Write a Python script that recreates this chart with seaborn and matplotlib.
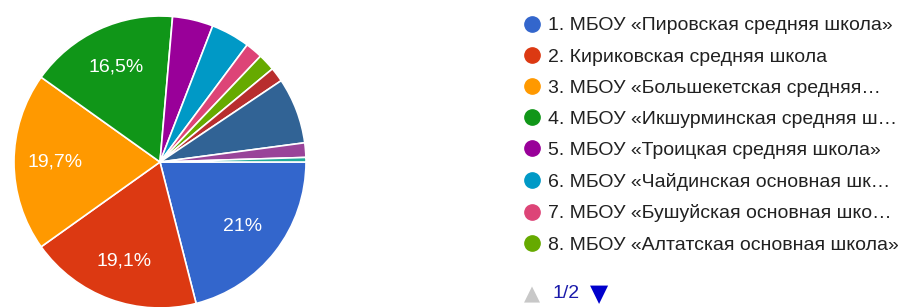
import seaborn as sns
import matplotlib.pyplot as plt
from matplotlib.lines import Line2D

# share of answers per school, % (clockwise from 3 o'clock)
shares = [21.0, 19.1, 19.7, 16.5, 4.5, 4.3, 1.9, 1.9, 1.6, 7.3, 1.6, 0.5]

# legend page 1 of 2 (names as shown, truncated)
legend_labels = [
    "1. МБОУ «Пировская средняя школа»",
    "2. Кириковская средняя школа",
    "3. МБОУ «Большекетская средняя…",
    "4. МБОУ «Икшурминская средняя ш…",
    "5. МБОУ «Троицкая средняя школа»",
    "6. МБОУ «Чайдинская основная шк…",
    "7. МБОУ «Бушуйская основная шко…",
    "8. МБОУ «Алтатская основная школа»",
]
page_text = "1/2"

# google charts palette
colors = sns.color_palette(["#3366cc", "#dc3912", "#ff9900", "#109618", "#990099", "#0099c6",
                            "#dd4477", "#66aa00", "#b82e2e", "#316395", "#994499", "#22aa99"])

sns.set_theme(style="white")
plt.rcParams['font.family'] = ['Arial', 'Liberation Sans', 'DejaVu Sans']

W, H = 907, 307
fig = plt.figure(figsize=(W / 100, H / 100), dpi=100)

# pie centre at (160, 162) px, radius 146 px
r, cx, cy = 146, 160, 162
pad = 1.03
ax = fig.add_axes([(cx - r * pad) / W, (H - cy - r * pad) / H, 2 * r * pad / W, 2 * r * pad / H])


def pct_label(p):
    if p < 10:
        return ""
    s = f"{p:.1f}"
    if s.endswith(".0"):
        s = s[:-2]
    return s.replace(".", ",") + "%"


wedges, texts, autotexts = ax.pie(shares, colors=colors, startangle=0, counterclock=False,
                                  autopct=pct_label, pctdistance=0.72,
                                  wedgeprops=dict(edgecolor="white", linewidth=1.2),
                                  textprops=dict(color="white", fontsize=14))
ax.set_xlim(-pad, pad)
ax.set_ylim(-pad, pad)
ax.set_aspect("equal")
ax.axis("off")

handles = [Line2D([], [], marker="o", linestyle="", markersize=11,
                  markerfacecolor=colors[i], markeredgecolor=colors[i])
           for i in range(len(legend_labels))]
leg = fig.legend(handles, legend_labels, loc="upper left", bbox_to_anchor=(513 / W, 1 - 7 / H),
                 frameon=False, fontsize=14, labelspacing=0.70, handletextpad=0.28,
                 handlelength=1.0, borderpad=0)
for t in leg.get_texts():
    t.set_color("#212121")

fig.text(532 / W, 1 - 294 / H, "▲", color="#c8c8c8", fontsize=15, ha="center", va="center",
         family="DejaVu Sans")
fig.text(553 / W, 1 - 294 / H, page_text, color="#1a1aaa", fontsize=14, ha="left", va="center")
fig.text(599 / W, 1 - 294 / H, "▼", color="#0000cc", fontsize=17, ha="center", va="center",
         family="DejaVu Sans")

fig.savefig("out.png", dpi=100)
